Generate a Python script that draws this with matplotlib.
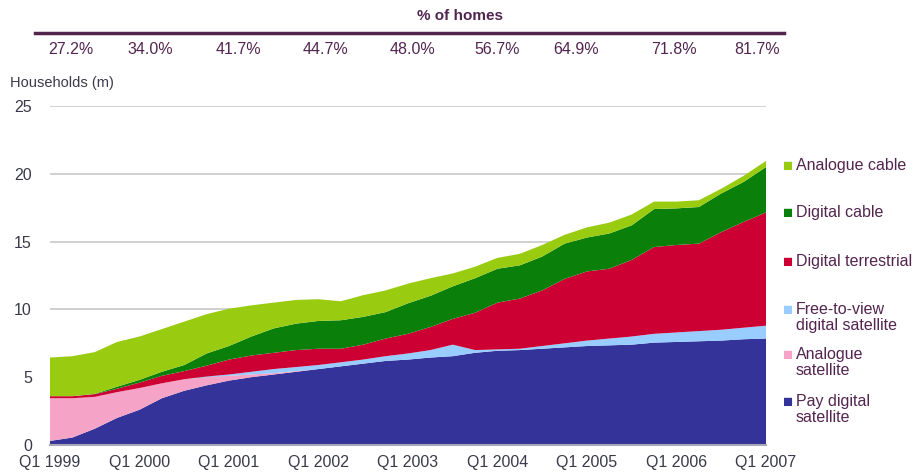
import numpy as np
import matplotlib
matplotlib.use('Agg')
import matplotlib.pyplot as plt
import matplotlib.transforms as mtrans
from matplotlib.lines import Line2D

plt.rcParams['font.family'] = ['Liberation Sans', 'DejaVu Sans']

# quarters Q1 1999 .. Q1 2007
quarters = np.arange(33)
tick_pos = [0, 4, 8, 12, 16, 20, 24, 28, 32]
tick_labels = ['Q1 1999', 'Q1 2000', 'Q1 2001', 'Q1 2002', 'Q1 2003',
               'Q1 2004', 'Q1 2005', 'Q1 2006', 'Q1 2007']

# households (m) per platform, stacked from the bottom
pay_sat = [0.3, 0.55, 1.2, 2.0, 2.6, 3.45, 4.0, 4.4, 4.75, 5.0, 5.2, 5.4, 5.6,
           5.8, 6.0, 6.2, 6.3, 6.45, 6.55, 6.8, 6.95, 7.0, 7.1, 7.2, 7.3, 7.35,
           7.4, 7.55, 7.6, 7.65, 7.7, 7.8, 7.85]
ana_sat = [3.15, 2.9, 2.35, 1.9, 1.6, 1.1, 0.85, 0.6, 0.35, 0.2, 0.1, 0.05, 0,
           0, 0, 0, 0, 0, 0, 0, 0, 0, 0, 0, 0, 0, 0, 0, 0, 0, 0, 0, 0]
ftv_sat = [0, 0, 0, 0, 0, 0, 0, 0.05, 0.1, 0.2, 0.3, 0.3, 0.3, 0.3, 0.3, 0.35,
           0.45, 0.55, 0.85, 0.2, 0.1, 0.1, 0.2, 0.3, 0.4, 0.5, 0.6, 0.65, 0.7,
           0.75, 0.8, 0.85, 0.95]
dig_terr = [0.15, 0.15, 0.2, 0.25, 0.4, 0.55, 0.6, 0.8, 1.1, 1.2, 1.2, 1.25, 1.2,
            1.0, 1.1, 1.3, 1.45, 1.7, 1.9, 2.75, 3.45, 3.7, 4.1, 4.75, 5.1, 5.15,
            5.65, 6.4, 6.45, 6.45, 7.2, 7.8, 8.35]
dig_cable = [0, 0, 0.02, 0.15, 0.2, 0.3, 0.45, 0.9, 1.0, 1.4, 1.8, 1.95, 2.05,
             2.1, 2.05, 1.95, 2.25, 2.3, 2.4, 2.55, 2.5, 2.45, 2.5, 2.6, 2.5, 2.6,
             2.55, 2.8, 2.7, 2.7, 2.85, 2.95, 3.35]
ana_cable = [2.85, 2.95, 3.08, 3.3, 3.2, 3.15, 3.2, 2.9, 2.75, 2.3, 1.9, 1.75,
             1.6, 1.4, 1.6, 1.6, 1.45, 1.3, 0.95, 0.85, 0.8, 0.85, 0.85, 0.65,
             0.75, 0.8, 0.8, 0.55, 0.5, 0.5, 0.35, 0.45, 0.45]

series_names = ['Pay digital\nsatellite', 'Analogue\nsatellite',
                'Free-to-view\ndigital satellite', 'Digital terrestrial',
                'Digital cable', 'Analogue cable']
colors = ['#333399', '#f5a3c7', '#99ccff', '#cc0033', '#0a800a', '#99cc11']

pct_labels = ['27.2%', '34.0%', '41.7%', '44.7%', '48.0%', '56.7%', '64.9%',
              '71.8%', '81.7%']
pct_x = [0.95, 4.5, 8.4, 12.3, 16.2, 20.0, 23.5, 27.9, 31.6]

purple = '#52254f'
txt = '#3a3a4a'

fig = plt.figure(figsize=(9.13, 4.72), dpi=100)
ax = fig.add_axes([50 / 913, 1 - 445 / 472, 716 / 913, 339 / 472])

ax.stackplot(quarters, pay_sat, ana_sat, ftv_sat, dig_terr, dig_cable, ana_cable,
             colors=colors, linewidth=0)

ax.set_xlim(0, 32)
ax.set_ylim(0, 25)
ax.set_yticks([0, 5, 10, 15, 20, 25])
ax.set_xticks(tick_pos)
ax.set_xticklabels(tick_labels)
ax.tick_params(axis='both', length=0, labelsize=11.5, colors=txt)
ax.tick_params(axis='y', pad=13)
ax.tick_params(axis='x', pad=7)
ax.grid(axis='y', color='#c8c8c8', linewidth=1.2, zorder=0)
ax.set_axisbelow(True)
for s in ['top', 'right', 'left']:
    ax.spines[s].set_visible(False)
ax.spines['bottom'].set_color('#a8a8b8')
ax.spines['bottom'].set_linewidth(1.5)

# legend, top entry first
legend_y = [166, 213, 262, 310, 355, 402]
for name, col, py in zip(series_names[::-1], colors[::-1], legend_y):
    fy = 1 - py / 472
    fig.text(788 / 913, fy, '\u25a0', color=col, fontsize=12, va='center', ha='center')
    fig.text(796 / 913, fy + 0.018, name, color=purple, fontsize=11.5,
             va='top', ha='left', linespacing=1.1)

# % of homes header
fig.text(460 / 913, 1 - 16 / 472, '% of homes', color=purple, fontsize=11,
         fontweight='bold', ha='center', va='center')
fig.add_artist(Line2D([35 / 913, 784 / 913], [1 - 33 / 472, 1 - 33 / 472],
                      color=purple, linewidth=2.5))
blend = mtrans.blended_transform_factory(ax.transData, fig.transFigure)
for lab, xq in zip(pct_labels, pct_x):
    ax.text(xq, 1 - 50 / 472, lab, transform=blend,
            color=purple, fontsize=11.5, ha='center', va='center')

fig.text(10 / 913, 1 - 83 / 472, 'Households (m)', color=txt, fontsize=10.5,
         ha='left', va='center')

fig.savefig('out.png', dpi=100)
